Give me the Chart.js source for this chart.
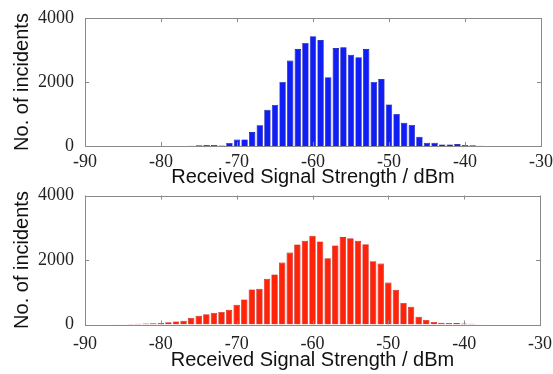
<!DOCTYPE html>
<html>
<head>
<meta charset="utf-8">
<script src="https://cdn.jsdelivr.net/npm/chart.js@4"></script>
<style>
  body{margin:0;background:#fff;}
  #wrap{position:relative;width:553px;height:374px;overflow:hidden;}
  .box{position:absolute;left:0;width:553px;}
</style>
</head>
<body>
<div id="wrap">
  <div class="box" style="top:0;height:189px"><canvas id="topChart"></canvas></div>
  <div class="box" style="top:180px;height:194px"><canvas id="botChart"></canvas></div>
</div>
<script>
// Data (dBm bins, 1 dBm wide)
const blueBins=[-76,-75,-74,-73,-72,-71,-70,-69,-68,-67,-66,-65,-64,-63,-62,-61,-60,-59,-58,-57,-56,-55,-54,-53,-52,-51,-50,-49,-48,-47,-46,-45,-44,-43,-42,-41,-40,-39,-38];
const blueCounts=[10,20,30,30,15,95,200,205,435,645,1130,1285,2000,2670,3030,3220,3430,3310,2150,3060,3085,2850,2775,3030,2000,2090,1300,1000,725,660,290,100,100,50,50,60,30,20,10];

const redBins=[-86,-85,-84,-83,-82,-81,-80,-79,-78,-77,-76,-75,-74,-73,-72,-71,-70,-69,-68,-67,-66,-65,-64,-63,-62,-61,-60,-59,-58,-57,-56,-55,-54,-53,-52,-51,-50,-49,-48,-47,-46,-45,-44,-43,-42,-41,-40,-39,-38];
const redCounts=[5,10,15,20,30,40,50,70,95,115,205,270,320,360,390,455,610,775,1085,1105,1415,1550,1920,2230,2480,2595,2750,2575,2055,2450,2710,2675,2595,2490,1965,1890,1300,1075,670,550,242,140,78,55,50,45,30,20,10];

const xTicks=[-90,-80,-70,-60,-50,-40,-30];
const yTicks=[0,2000,4000];

// MATLAB style frame with inward ticks
const framePlugin={
  id:'frame',
  afterDraw(chart){
    const {ctx,chartArea:a,scales}=chart;
    ctx.save();
    ctx.strokeStyle='#8a8a8a';
    ctx.lineWidth=1;
    ctx.strokeRect(Math.round(a.left)+0.5,Math.round(a.top)+0.5,Math.round(a.right-a.left),Math.round(a.bottom-a.top));
    ctx.beginPath();
    xTicks.forEach(v=>{
      const x=Math.round(scales.x.getPixelForValue(v))+0.5;
      ctx.moveTo(x,a.bottom);ctx.lineTo(x,a.bottom-4);
      ctx.moveTo(x,a.top);ctx.lineTo(x,a.top+4);
    });
    yTicks.forEach(v=>{
      const y=Math.round(scales.y.getPixelForValue(v))+0.5;
      ctx.moveTo(a.left,y);ctx.lineTo(a.left+4,y);
      ctx.moveTo(a.right,y);ctx.lineTo(a.right-4,y);
    });
    ctx.stroke();
    ctx.restore();
  }
};

function makeChart(id,bins,counts,color,edge,pad,xHeight,tickPad){
  const points=bins.map((b,i)=>({x:b,y:counts[i]}));
  return new Chart(document.getElementById(id),{
    type:'bar',
    data:{datasets:[{data:points,backgroundColor:color,borderColor:edge,borderWidth:0.6,
      categoryPercentage:1,barPercentage:0.84}]},
    options:{
      responsive:true,maintainAspectRatio:false,animation:false,
      layout:{padding:pad},
      plugins:{legend:{display:false},tooltip:{enabled:false}},
      scales:{
        x:{type:'linear',min:-90,max:-30,offset:false,
          afterFit(s){s.height=xHeight;},
          grid:{display:false},border:{display:false},
          ticks:{stepSize:10,padding:tickPad,color:'#222',font:{family:'Liberation Serif',size:18},maxRotation:0,
            callback:v=>String(v)},
          title:{display:true,text:'Received Signal Strength / dBm',color:'#111',
            font:{family:'Liberation Sans',size:20},padding:{top:0,bottom:0}}},
        y:{min:0,max:4000,
          afterFit(s){s.width=85;},
          grid:{display:false},border:{display:false},
          ticks:{stepSize:2000,padding:3,color:'#222',font:{family:'Liberation Serif',size:18},
            callback:v=>String(v)},
          title:{display:true,text:'No. of incidents',color:'#111',
            font:{family:'Liberation Sans',size:20},padding:{top:10,bottom:0}}}
      }
    },
    plugins:[framePlugin]
  });
}

makeChart('topChart',blueBins,blueCounts,'rgb(15,30,245)','rgb(0,0,150)',{left:0,top:18,right:12,bottom:0},43,-3);
makeChart('botChart',redBins,redCounts,'rgb(255,35,10)','rgb(170,10,0)',{left:0,top:15.5,right:12,bottom:2},47.5,1);
</script>
</body>
</html>
